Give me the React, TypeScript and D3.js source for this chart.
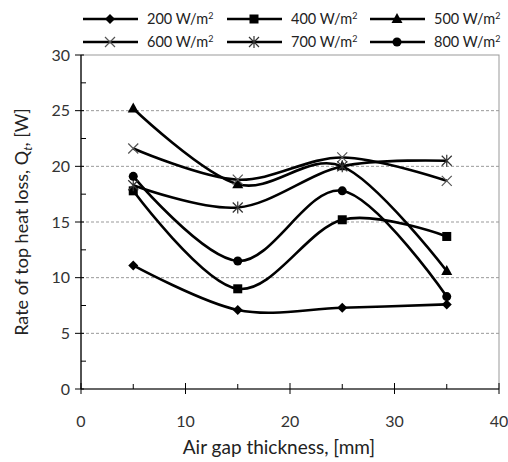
import React, { useEffect, useRef } from "react";
import * as d3 from "d3";

const xValues = [5, 15, 25, 35];
const seriesNames = ["200", "400", "500", "600", "700", "800"];
const s200 = [11.1, 7.1, 7.3, 7.6];
const s400 = [17.8, 9.0, 15.2, 13.7];
const s500 = [25.2, 18.4, 20.0, 10.6];
const s600 = [21.6, 18.8, 20.8, 18.7];
const s700 = [18.3, 16.3, 20.0, 20.5];
const s800 = [19.1, 11.5, 17.8, 8.3];
const xTicks = [0, 10, 20, 30, 40];
const yTicks = [0, 5, 10, 15, 20, 25, 30];

const W = 508, H = 462;
const M = { left: 81, right: 499, top: 55, bottom: 389 };
const FONT = "Lato, 'Open Sans', sans-serif";

type MarkerKind = "diamond" | "square" | "triangle" | "x" | "asterisk" | "circle";
const markerKinds: MarkerKind[] = ["diamond", "square", "triangle", "x", "asterisk", "circle"];

function drawMarker(g: d3.Selection<SVGGElement, unknown, null, undefined>, kind: MarkerKind, cx: number, cy: number) {
  if (kind === "diamond") {
    g.append("path").attr("d", `M${cx},${cy - 5}L${cx + 5},${cy}L${cx},${cy + 5}L${cx - 5},${cy}Z`).attr("fill", "#000");
  } else if (kind === "square") {
    g.append("rect").attr("x", cx - 4.5).attr("y", cy - 4.5).attr("width", 9).attr("height", 9).attr("fill", "#000");
  } else if (kind === "triangle") {
    g.append("path").attr("d", `M${cx},${cy - 6}L${cx + 5.5},${cy + 4}L${cx - 5.5},${cy + 4}Z`).attr("fill", "#000");
  } else if (kind === "circle") {
    g.append("circle").attr("cx", cx).attr("cy", cy).attr("r", 4.5).attr("fill", "#000");
  } else if (kind === "x") {
    g.append("path").attr("d", `M${cx - 5},${cy - 5}L${cx + 5},${cy + 5}M${cx - 5},${cy + 5}L${cx + 5},${cy - 5}`)
      .attr("stroke", "#555").attr("stroke-width", 1.2).attr("fill", "none");
  } else if (kind === "asterisk") {
    g.append("path").attr("d", `M${cx - 5},${cy - 5}L${cx + 5},${cy + 5}M${cx - 5},${cy + 5}L${cx + 5},${cy - 5}M${cx},${cy - 6}L${cx},${cy + 6}`)
      .attr("stroke", "#333").attr("stroke-width", 1.2).attr("fill", "none");
  }
}

export default function App() {
  const ref = useRef<SVGSVGElement>(null);
  useEffect(() => {
    const svg = d3.select(ref.current!);
    svg.selectAll("*").remove();
    const x = d3.scaleLinear().domain([0, 40]).range([M.left, M.right]);
    const y = d3.scaleLinear().domain([0, 30]).range([M.bottom, M.top]);
    const data = [s200, s400, s500, s600, s700, s800];

    // frame
    svg.append("rect").attr("x", M.left).attr("y", M.top).attr("width", M.right - M.left).attr("height", M.bottom - M.top)
      .attr("fill", "none").attr("stroke", "#999").attr("stroke-width", 1);

    // grid
    const grid = svg.append("g");
    yTicks.filter(t => t > 0 && t < 30).forEach(t => {
      grid.append("line").attr("x1", M.left).attr("x2", M.right).attr("y1", y(t)).attr("y2", y(t))
        .attr("stroke", "#999").attr("stroke-width", 1).attr("stroke-dasharray", "3,2");
    });

    // axes
    const ax = svg.append("g");
    ax.append("line").attr("x1", M.left).attr("x2", M.left).attr("y1", M.top).attr("y2", M.bottom).attr("stroke", "#000").attr("stroke-width", 1.2);
    ax.append("line").attr("x1", M.left).attr("x2", M.right).attr("y1", M.bottom).attr("y2", M.bottom).attr("stroke", "#000").attr("stroke-width", 1.2);
    yTicks.forEach(t => {
      ax.append("line").attr("x1", M.left - 6).attr("x2", M.left + 3).attr("y1", y(t)).attr("y2", y(t)).attr("stroke", "#000");
      ax.append("text").attr("x", M.left - 11).attr("y", y(t)).attr("dy", "0.35em").attr("text-anchor", "end")
        .attr("font-family", FONT).attr("font-size", 16).attr("fill", "#333").text(String(t));
    });
    d3.range(2.5, 30, 5).forEach(t => {
      ax.append("line").attr("x1", M.left).attr("x2", M.left + 5).attr("y1", y(t)).attr("y2", y(t)).attr("stroke", "#000");
    });
    xTicks.forEach(t => {
      ax.append("line").attr("x1", x(t)).attr("x2", x(t)).attr("y1", M.bottom - 6).attr("y2", M.bottom + 5).attr("stroke", "#000");
      ax.append("text").attr("x", x(t)).attr("y", 427).attr("text-anchor", "middle")
        .attr("font-family", FONT).attr("font-size", 16).attr("fill", "#333").text(String(t));
    });
    d3.range(5, 40, 10).forEach(t => {
      ax.append("line").attr("x1", x(t)).attr("x2", x(t)).attr("y1", M.bottom - 5).attr("y2", M.bottom).attr("stroke", "#000");
    });

    // titles
    svg.append("text").attr("x", 279).attr("y", 454).attr("text-anchor", "middle")
      .attr("font-family", FONT).attr("font-size", 19).attr("fill", "#222").text("Air gap thickness, [mm]");
    const yt = svg.append("text").attr("transform", `translate(28,${(M.top + M.bottom) / 2}) rotate(-90)`).attr("text-anchor", "middle")
      .attr("font-family", FONT).attr("font-size", 18).attr("fill", "#222");
    yt.append("tspan").text("Rate of top heat loss, Q");
    yt.append("tspan").attr("font-size", 12).attr("dy", 4).attr("font-style", "italic").text("t");
    yt.append("tspan").attr("dy", -4).text(", [W]");

    // lines
    const line = d3.line<number>().x((_, i) => x(xValues[i])).y(d => y(d)).curve(d3.curveCardinal.tension(0));
    data.forEach((s) => {
      svg.append("path").attr("d", line(s)!).attr("fill", "none").attr("stroke", "#000").attr("stroke-width", 2.6);
    });
    data.forEach((s, k) => {
      const g = svg.append("g");
      s.forEach((v, i) => drawMarker(g, markerKinds[k], x(xValues[i]), y(v)));
    });

    // legend
    const colX = [83, 227, 370];
    const rowY = [19, 42];
    seriesNames.forEach((name, k) => {
      const cx = colX[k % 3], cy = rowY[Math.floor(k / 3)];
      const g = svg.append("g");
      g.append("line").attr("x1", cx).attr("x2", cx + 55).attr("y1", cy).attr("y2", cy).attr("stroke", "#000").attr("stroke-width", 2.4);
      drawMarker(g, markerKinds[k], cx + 27, cy);
      const t = g.append("text").attr("x", cx + 64).attr("y", cy).attr("dy", "0.35em")
        .attr("font-family", FONT).attr("font-size", 14.5).attr("fill", "#222");
      t.append("tspan").text(`${name} W/m`);
      t.append("tspan").attr("font-size", 9).attr("dy", -5).text("2");
    });
  }, []);
  return <svg ref={ref} width={W} height={H} style={{ position: "absolute", left: 0, top: 0, background: "#fff" }} />;
}
